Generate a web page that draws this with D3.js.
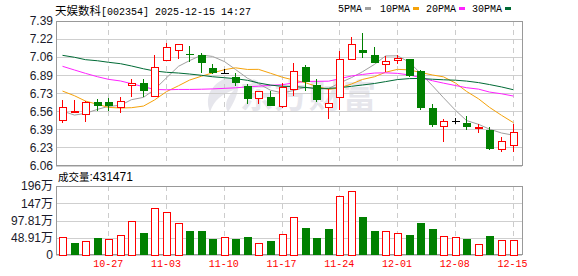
<!DOCTYPE html>
<html>
<head>
<meta charset="utf-8">
<script src="https://cdn.jsdelivr.net/npm/d3@7"></script>
<style>
  body { margin: 0; background: #fff; }
  svg { display: block; }
</style>
</head>
<body>
<svg id="chart" width="578" height="276"></svg>
<script>
// daily K-line, 天娱数科 002354
const dates = ["10-21","10-22","10-23","10-24",
  "10-27","10-28","10-29","10-30","10-31",
  "11-03","11-04","11-05","11-06","11-07",
  "11-10","11-11","11-12","11-13","11-14",
  "11-17","11-18","11-19","11-20","11-21",
  "11-24","11-25","11-26","11-27","11-28",
  "12-01","12-02","12-03","12-04","12-05",
  "12-08","12-09","12-10","12-11","12-12",
  "12-15"];
const opens  = [6.48,6.555,6.53,6.64,6.64,6.60,6.80,6.82,6.70,7.03,7.12,7.09,7.08,6.96,6.91,6.87,6.79,6.68,6.69,6.61,6.765,6.965,6.80,6.595,6.69,7.04,7.12,7.08,6.99,7.03,7.04,6.93,6.59,6.42,6.47,6.45,6.41,6.385,6.21,6.245];
const highs  = [6.66,6.66,6.65,6.67,6.68,6.69,6.86,6.86,7.08,7.19,7.18,7.16,7.095,6.99,6.95,6.91,6.81,6.75,6.75,6.82,7.00,6.985,6.86,6.76,7.11,7.245,7.28,7.15,7.07,7.08,7.04,6.94,6.625,6.49,6.50,6.515,6.445,6.41,6.32,6.445];
const lows   = [6.45,6.555,6.46,6.56,6.56,6.54,6.69,6.69,6.69,7.03,7.04,7.015,6.91,6.905,6.90,6.79,6.63,6.63,6.61,6.585,6.70,6.75,6.645,6.485,6.57,7.03,7.05,7.00,6.92,6.995,6.87,6.575,6.415,6.28,6.44,6.39,6.36,6.205,6.18,6.18];
const closes = [6.60,6.56,6.64,6.61,6.61,6.65,6.82,6.745,6.97,7.15,7.18,7.08,7.00,6.91,6.91,6.82,6.675,6.75,6.61,6.785,6.93,6.83,6.66,6.635,7.04,7.18,7.10,7.00,7.02,7.05,6.88,6.59,6.43,6.47,6.47,6.41,6.415,6.21,6.29,6.37];
// volume in 万手
const volumes = [51.0,34.9,39.7,49.1,45.4,56.7,96.4,63.3,133.3,121.9,90.7,69.0,69.0,46.3,51.0,46.3,51.9,34.0,39.7,59.5,107.7,77.4,49.1,74.6,167.3,181.5,108.6,69.0,68.0,62.4,57.6,90.7,74.6,53.9,51.0,46.3,31.2,54.8,42.5,43.15];

const ma5  = [6.561,6.524,6.540,6.577,6.604,6.614,6.666,6.687,6.759,6.867,6.973,7.025,7.076,7.064,7.016,6.944,6.863,6.813,6.753,6.728,6.750,6.781,6.763,6.768,6.819,6.869,6.923,6.991,7.068,7.070,7.010,6.908,6.794,6.684,6.568,6.474,6.439,6.395,6.359,6.339];
const ma10 = [6.745,6.702,6.653,6.623,6.595,6.589,6.592,6.607,6.663,6.740,6.794,6.846,6.882,6.912,6.942,6.959,6.944,6.945,6.909,6.872,6.847,6.822,6.788,6.761,6.774,6.810,6.852,6.877,6.918,6.945,6.940,6.916,6.893,6.876,6.819,6.742,6.674,6.595,6.522,6.454];
const ma20 = [6.973,6.939,6.908,6.877,6.853,6.838,6.813,6.785,6.760,6.757,6.760,6.760,6.762,6.765,6.770,6.775,6.784,6.790,6.798,6.804,6.820,6.834,6.835,6.836,6.858,6.884,6.898,6.911,6.913,6.908,6.893,6.869,6.840,6.818,6.796,6.776,6.763,6.736,6.720,6.699];
const ma30 = [7.074,7.056,7.034,7.024,7.010,6.997,6.976,6.950,6.930,6.918,6.911,6.902,6.890,6.877,6.868,6.859,6.844,6.820,6.800,6.789,6.787,6.778,6.770,6.770,6.776,6.789,6.801,6.815,6.832,6.851,6.860,6.861,6.854,6.849,6.845,6.837,6.823,6.805,6.783,6.757];

const priceTicks  = [6.06,6.22625,6.3925,6.55875,6.725,6.89125,7.0575,7.22375,7.39];
const priceLabels = ["6.06","6.23","6.39","6.56","6.73","6.89","7.06","7.22","7.39"];
const volTicks  = [0,48.91,97.82,146.73,195.64];
const volLabels = ["0","48.91万","97.81万","147万","196万"];
const weekTicks = ["10-27","11-03","11-10","11-17","11-24","12-01","12-08","12-15"];

const maNames  = ["5PMA","10PMA","20PMA","30PMA"];
const maColors = ["#a0a0a0","#f5a20a","#ff22ff","#006a35"];

const RED = "#ff0000", GREEN = "#008000";
const left = 56, right = 522;

const svg = d3.select("#chart");

const x = d3.scaleBand().domain(dates).range([56.3, 518.3]);
const cx = d => Math.round(x(d) + x.bandwidth() / 2);
const y = d3.scaleLinear().domain([6.06, 7.39]).range([165.5, 21]);
const yv = d3.scaleLinear().domain([0, 195.64]).range([255, 186]);

const rows = dates.map((d, i) => ({
  date: d, open: opens[i], high: highs[i], low: lows[i], close: closes[i],
  vol: volumes[i], up: i === 0 || closes[i] >= closes[i - 1]
}));

// watermark
const wm = svg.append("g").attr("fill", "#e6e6ec");
wm.append("path")
  .attr("d", "M226,78 C212,84 204,96 210,112 C214,100 222,94 234,90 C226,98 224,106 228,112 C236,100 240,88 238,80 Z");
wm.append("text")
  .attr("x", 240).attr("y", 108)
  .attr("font-family", "Noto Sans CJK SC")
  .attr("font-weight", "bold")
  .attr("font-size", 33)
  .attr("textLength", 136)
  .text("东方财富");

// grids
const grid = svg.append("g").attr("shape-rendering", "crispEdges");
grid.selectAll(".hp").data(priceTicks).join("line")
  .attr("x1", left).attr("x2", right)
  .attr("y1", d => Math.round(y(d)) + 0.5).attr("y2", d => Math.round(y(d)) + 0.5)
  .attr("stroke", "#cfcfcf");
grid.selectAll(".hv").data(volTicks).join("line")
  .attr("x1", left).attr("x2", right)
  .attr("y1", d => Math.round(yv(d)) + 0.5).attr("y2", d => Math.round(yv(d)) + 0.5)
  .attr("stroke", "#cfcfcf");
weekTicks.forEach(d => {
  [[21, 165], [186, 255]].forEach(r => {
    grid.append("line")
      .attr("x1", cx(d) + 0.5).attr("x2", cx(d) + 0.5)
      .attr("y1", r[0]).attr("y2", r[1])
      .attr("stroke", "#cccccc")
      .attr("stroke-dasharray", "5,4");
  });
});

// frames
const frame = svg.append("g").attr("fill", "none").attr("stroke", "#999")
  .attr("shape-rendering", "crispEdges");
frame.append("rect").attr("x", left + 0.5).attr("y", 21.5).attr("width", right - left).attr("height", 144);
frame.append("rect").attr("x", left + 0.5).attr("y", 186.5).attr("width", right - left).attr("height", 68);

// moving averages
maNames.forEach((name, k) => {
  const vals = [ma5, ma10, ma20, ma30][k];
  svg.append("path")
    .datum(vals)
    .attr("fill", "none")
    .attr("stroke", maColors[k])
    .attr("stroke-width", 1)
    .attr("d", d3.line().x((v, i) => cx(dates[i]) + 0.5).y(v => y(v)));
});

// candles
const colorOf = r => r.close > r.open ? RED : (r.close < r.open ? GREEN : "#000");
const candles = svg.append("g").attr("shape-rendering", "crispEdges")
  .selectAll("g").data(rows).join("g");
candles.append("line")
  .attr("x1", r => cx(r.date) + 0.5).attr("x2", r => cx(r.date) + 0.5)
  .attr("y1", r => y(r.high)).attr("y2", r => y(r.low))
  .attr("stroke", colorOf);
candles.append("rect")
  .attr("x", r => r.close > r.open ? cx(r.date) - 3 : cx(r.date) - 3.5)
  .attr("y", r => Math.round(y(Math.max(r.open, r.close))) + (r.close > r.open ? 0.5 : 0))
  .attr("width", r => r.close > r.open ? 7 : 8)
  .attr("height", r => {
    const h = Math.round(y(Math.min(r.open, r.close))) - Math.round(y(Math.max(r.open, r.close)));
    return r.close > r.open ? Math.max(h, 1) : Math.max(h, 1);
  })
  .attr("fill", r => r.close > r.open ? "#fff" : colorOf(r))
  .attr("stroke", r => r.close > r.open ? RED : "none");

// volume bars
svg.append("g").attr("shape-rendering", "crispEdges")
  .selectAll("rect").data(rows).join("rect")
  .attr("x", r => r.up ? cx(r.date) - 3 : cx(r.date) - 3.5)
  .attr("y", r => Math.round(yv(r.vol)) + (r.up ? 0.5 : 0))
  .attr("width", r => r.up ? 7 : 8)
  .attr("height", r => 255 - Math.round(yv(r.vol)) - (r.up ? 0.5 : 0))
  .attr("fill", r => r.up ? "#fff" : GREEN)
  .attr("stroke", r => r.up ? RED : "none");

// axes
const yAxis = svg.append("g")
  .attr("transform", `translate(${left},0)`)
  .call(d3.axisLeft(y).tickValues(priceTicks).tickFormat((d, i) => priceLabels[i]).tickSize(0).tickPadding(3));
const vAxis = svg.append("g")
  .attr("transform", `translate(${left},0)`)
  .call(d3.axisLeft(yv).tickValues(volTicks).tickFormat((d, i) => volLabels[i]).tickSize(0).tickPadding(3));
[yAxis, vAxis].forEach(a => {
  a.select(".domain").remove();
  a.selectAll("text")
    .attr("font-family", "Liberation Sans, Arial, Noto Sans CJK SC")
    .attr("font-size", 12)
    .attr("fill", "#1a1a2a");
});

const xAxis = svg.append("g")
  .attr("transform", "translate(0,255)")
  .call(d3.axisBottom(x).tickValues(weekTicks).tickSize(0).tickPadding(5));
xAxis.select(".domain").remove();
xAxis.selectAll("text")
  .attr("font-family", "Liberation Mono, monospace")
  .attr("font-size", 10)
  .attr("fill", RED);

// title
const title = svg.append("text").attr("x", 55).attr("y", 15)
  .attr("font-family", "Liberation Mono, monospace").attr("font-size", 10).attr("fill", "#000");
title.append("tspan").attr("font-family", "Noto Sans CJK SC").attr("font-size", 11.5).text("天娱数科");
title.append("tspan").text("[002354] 2025-12-15 14:27");

// legend
const legend = svg.append("g").attr("font-family", "Liberation Mono, monospace").attr("font-size", 10);
const legendX = [338, 380, 426, 472];
maNames.forEach((name, k) => {
  legend.append("text").attr("x", legendX[k]).attr("y", 12).text(name);
  legend.append("rect")
    .attr("x", legendX[k] + name.length * 6 + 3).attr("y", 7)
    .attr("width", 6).attr("height", 3)
    .attr("fill", maColors[k]);
});

// volume caption
const vcap = svg.append("text").attr("x", 58).attr("y", 181)
  .attr("font-family", "Liberation Sans, Arial").attr("font-size", 12).attr("fill", "#000");
vcap.append("tspan").attr("font-family", "Noto Sans CJK SC").attr("font-size", 10.5).text("成交量");
vcap.append("tspan").text(":431471");
</script>
</body>
</html>
